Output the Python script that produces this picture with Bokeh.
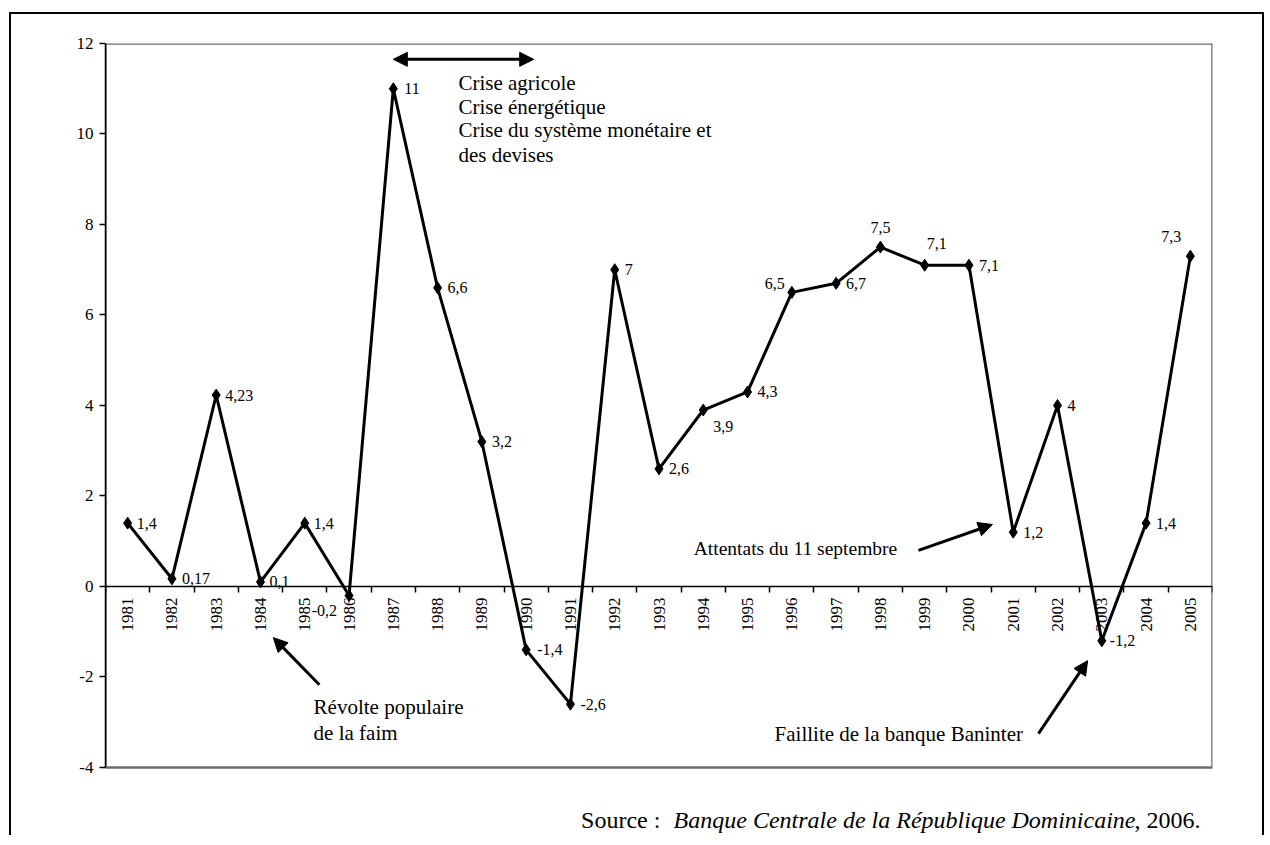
import math
from bokeh.plotting import figure
from bokeh.models import (ColumnDataSource, FixedTicker, Label, Arrow, NormalHead,
                          Range1d, BoxAnnotation)
from bokeh.core.properties import value
from bokeh.embed import file_html
from bokeh.resources import INLINE

# ---- data ----
years = ["1981", "1982", "1983", "1984", "1985", "1986", "1987", "1988", "1989",
         "1990", "1991", "1992", "1993", "1994", "1995", "1996", "1997", "1998",
         "1999", "2000", "2001", "2002", "2003", "2004", "2005"]
growth = [1.4, 0.17, 4.23, 0.1, 1.4, -0.2, 11, 6.6, 3.2, -1.4, -2.6, 7, 2.6,
          3.9, 4.3, 6.5, 6.7, 7.5, 7.1, 7.1, 1.2, 4, -1.2, 1.4, 7.3]
y_ticks = [-4, -2, 0, 2, 4, 6, 8, 10, 12]
y_min, y_max = -4, 12

# ---- label placement (style: align, dx, dy in screen px) ----
label_style = [
    ("left", 9, 0), ("left", 10, 0), ("left", 9, 0), ("left", 9, 0), ("left", 9, 0),
    ("right", -12, 15), ("left", 11, 0), ("left", 10, 0), ("left", 10, 0), ("left", 11, 0),
    ("left", 10, 0), ("left", 10, 0), ("left", 10, 0), ("left", 10, 16), ("left", 10, 0),
    ("right", -7, -9), ("left", 10, 0), ("center", 0, -20), ("left", 2, -22), ("left", 10, 0),
    ("left", 10, 0), ("left", 10, 0), ("left", 8, 0), ("left", 10, 0), ("right", -9, -20),
]

FONT = "Liberation Serif"
xs = [i + 0.5 for i in range(len(years))]
labels = [f"{v:g}".replace(".", ",") for v in growth]

src = ColumnDataSource(dict(
    x=xs, y=growth, label=labels,
    align=[s[0] for s in label_style],
    dx=[s[1] for s in label_style],
    dy=[s[2] for s in label_style],
))

# frame extends below -4 so that the source note sits inside it
p = figure(frame_width=1107, frame_height=792, output_backend="svg", toolbar_location=None,
           x_range=Range1d(0, len(years)), y_range=Range1d(-5.503, y_max),
           min_border_left=94, min_border_right=50, min_border_top=29, min_border_bottom=0)
p.styles = {"border-left": "2px solid black", "border-top": "2px solid black",
            "border-right": "2px solid black", "margin-left": "9px", "margin-top": "12px"}

p.grid.visible = False
p.outline_line_color = None
p.background_fill_color = "white"
p.border_fill_color = "white"

# grey plot-area border
p.add_layout(BoxAnnotation(left=0, right=len(years), bottom=y_min, top=y_max,
                           fill_alpha=0, line_color="#6e6e6e", line_alpha=1.0,
                           line_width=2.5, level="underlay"))

# y axis
p.yaxis.bounds = (y_min, y_max)
p.yaxis.ticker = FixedTicker(ticks=y_ticks)
p.yaxis.major_label_overrides = {t: str(t) for t in y_ticks}
p.yaxis.major_tick_out = 6
p.yaxis.major_tick_in = 0
p.yaxis.minor_tick_line_color = None
p.yaxis.axis_line_color = "black"
p.yaxis.axis_line_width = 1.5
p.yaxis.major_tick_line_width = 1.5
p.yaxis.major_label_text_font = FONT
p.yaxis.major_label_text_font_size = "17px"
p.yaxis.major_label_text_color = "black"
p.yaxis.major_label_standoff = 6

# x axis at zero (ticks between years), year labels drawn on the x scale
p.xaxis.fixed_location = 0
p.xaxis.ticker = FixedTicker(ticks=[], minor_ticks=list(range(len(years) + 1)))
p.xaxis.major_tick_out = 0
p.xaxis.major_tick_in = 0
p.xaxis.minor_tick_out = 6
p.xaxis.minor_tick_in = 0
p.xaxis.minor_tick_line_color = "black"
p.xaxis.minor_tick_line_width = 1.5
p.xaxis.axis_line_color = "black"
p.xaxis.axis_line_width = 1.5
p.xaxis.major_label_standoff = 0
p.xaxis.major_label_text_font_size = "0px"

p.text(x=xs, y=[0] * len(xs), text=years, angle=math.pi / 2, y_offset=11,
       text_align="right", text_baseline="middle",
       text_font=value(FONT), text_font_size="17px", text_color="black")

# series
p.line(xs, growth, line_color="black", line_width=3)
p.scatter(xs, growth, marker="diamond", size=12, color="black")
p.text(x="x", y="y", text="label", x_offset="dx", y_offset="dy",
       text_align="align", text_baseline="middle", source=src,
       text_font=value(FONT), text_font_size="16px", text_color="black")

# annotations
def lab(x, y, t, size="21px", style="normal", align="left"):
    p.add_layout(Label(x=x, y=y, text=t, text_font=FONT, text_font_size=size,
                       text_font_style=style, text_align=align,
                       text_baseline="middle", text_color="black"))

def head():
    return NormalHead(size=14, fill_color="black", line_color="black")

# period arrow
p.add_layout(Arrow(start=head(), end=head(), x_start=6.5, y_start=11.65,
                   x_end=9.67, y_end=11.65, line_width=3, line_color="black"))
lab(7.97, 11.12, "Crise agricole")
lab(7.97, 10.60, "Crise énergétique")
lab(7.97, 10.08, "Crise du système monétaire et")
lab(7.97, 9.53, "des devises")

# 1984 revolt
p.add_layout(Arrow(end=head(), x_start=4.83, y_start=-2.17, x_end=3.79, y_end=-1.13,
                   line_width=3, line_color="black"))
lab(4.70, -2.67, "Révolte populaire")
lab(4.70, -3.23, "de la faim")

# 11 september
p.add_layout(Arrow(end=head(), x_start=18.36, y_start=0.80, x_end=20.03, y_end=1.37,
                   line_width=3, line_color="black"))
lab(17.88, 0.84, "Attentats du 11 septembre", size="19.5px", align="right")

# Baninter
p.add_layout(Arrow(end=head(), x_start=21.07, y_start=-3.25, x_end=22.18, y_end=-1.64,
                   line_width=3, line_color="black"))
lab(20.72, -3.25, "Faillite de la banque Baninter", align="right")

# source
lab(10.74, -5.17, "Source :", size="24px")
lab(12.83, -5.17, "Banque Centrale de la République Dominicaine", size="24px", style="italic")
lab(24.73, -5.17, ", 2006.", size="24px", align="right")

open("out.html", "w").write(file_html(p, INLINE))
